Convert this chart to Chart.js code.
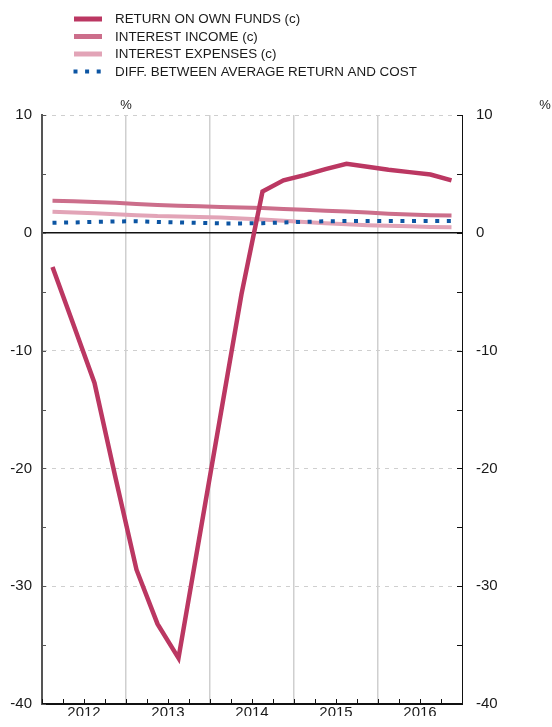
<!DOCTYPE html>
<html>
<head>
<meta charset="utf-8">
<script src="https://cdn.jsdelivr.net/npm/chart.js@4/dist/chart.umd.min.js"></script>
<style>
html,body{margin:0;padding:0;background:#fff;overflow:hidden;}
#wrap{position:relative;width:552px;height:727px;}
canvas{display:block;}
</style>
</head>
<body>
<div id="wrap"><canvas id="c" width="552" height="727"></canvas></div>
<script>
// ---- data ----
const quarters = ['2012-Q1','2012-Q2','2012-Q3','2012-Q4','2013-Q1','2013-Q2','2013-Q3','2013-Q4',
                  '2014-Q1','2014-Q2','2014-Q3','2014-Q4','2015-Q1','2015-Q2','2015-Q3','2015-Q4',
                  '2016-Q1','2016-Q2','2016-Q3','2016-Q4'];
const years = ['2012','2013','2014','2015','2016'];
const yTickLabels = [10, 0, -10, -20, -30, -40];
const returnOnOwnFunds = [-2.9, -7.8, -12.75, -20.8, -28.6, -33.2, -36.1, -25.8, -15.5, -5.2,
                          3.5, 4.45, 4.9, 5.4, 5.85, 5.6, 5.35, 5.15, 4.95, 4.45];
const interestIncome = [2.72, 2.68, 2.62, 2.55, 2.45, 2.36, 2.3, 2.25, 2.2, 2.15,
                        2.1, 2.02, 1.96, 1.88, 1.8, 1.72, 1.62, 1.55, 1.5, 1.47];
const interestExpenses = [1.78, 1.72, 1.65, 1.57, 1.5, 1.42, 1.38, 1.35, 1.3, 1.22,
                          1.12, 1.02, 0.92, 0.82, 0.72, 0.65, 0.6, 0.55, 0.5, 0.47];
const diffReturnCost = [0.85, 0.88, 0.92, 0.96, 0.98, 0.92, 0.88, 0.84, 0.8, 0.8,
                        0.82, 0.88, 0.93, 0.98, 1.0, 1.0, 1.0, 1.0, 1.0, 1.0];
const seriesLabels = ['RETURN ON OWN FUNDS (c)', 'INTEREST INCOME (c)', 'INTEREST EXPENSES (c)',
                      'DIFF. BETWEEN AVERAGE RETURN AND COST'];

const FONT = "'Liberation Sans', Arial, Helvetica, sans-serif";
const TXT = '#1a1a1a';

const innerTicks = {
  id: 'innerTicks',
  afterDatasetsDraw(chart) {
    const ctx = chart.ctx, ca = chart.chartArea;
    const yl = chart.scales.y, yr = chart.scales.y2, xq = chart.scales.x;
    ctx.save();
    ctx.lineWidth = 1;
    yl.ticks.forEach(t => {
      const p = Math.round(yl.getPixelForValue(t.value)) + 0.5;
      ctx.strokeStyle = '#555';
      ctx.beginPath(); ctx.moveTo(ca.left, p); ctx.lineTo(ca.left + 4, p); ctx.stroke();
    });
    yr.ticks.forEach(t => {
      const p = Math.round(yr.getPixelForValue(t.value)) + 0.5;
      ctx.strokeStyle = '#111';
      ctx.beginPath(); ctx.moveTo(ca.right - 5, p); ctx.lineTo(ca.right, p); ctx.stroke();
    });
    const half = (xq.getPixelForValue(1) - xq.getPixelForValue(0)) / 2;
    ctx.strokeStyle = '#111';
    for (let i = 0; i < quarters.length; i++) {
      const p = Math.round(xq.getPixelForValue(i) - half) + 0.5;
      ctx.beginPath(); ctx.moveTo(p, ca.bottom); ctx.lineTo(p, ca.bottom - 5); ctx.stroke();
    }
    ctx.restore();
  },
  afterDraw(chart) {
    const ctx = chart.ctx;
    ctx.save();
    // percent units
    ctx.fillStyle = TXT;
    ctx.font = '13px ' + FONT;
    ctx.textAlign = 'center';
    ctx.textBaseline = 'middle';
    ctx.fillText('%', 126, 105);
    ctx.fillText('%', 545, 105);
    // legend
    const order = [0, 1, 2, 3];
    const rowY = [19, 36.5, 54, 71.5];
    ctx.font = '13.4px ' + FONT;
    ctx.textAlign = 'left';
    order.forEach((di, k) => {
      const ds = chart.data.datasets[di];
      const y = rowY[k];
      ctx.strokeStyle = ds.borderColor;
      ctx.lineCap = 'butt';
      if (ds.borderDash && ds.borderDash.length) {
        ctx.lineWidth = 4;
        ctx.setLineDash(ds.borderDash);
        ctx.beginPath(); ctx.moveTo(73.5, y); ctx.lineTo(102, y); ctx.stroke();
        ctx.setLineDash([]);
      } else {
        ctx.lineWidth = 5;
        ctx.beginPath(); ctx.moveTo(74, y); ctx.lineTo(102, y); ctx.stroke();
      }
      ctx.fillStyle = TXT;
      ctx.fillText(ds.label, 115, y + 0.5);
    });
    ctx.restore();
  }
};

const greyGrid = '#cfcfcf';

new Chart(document.getElementById('c'), {
  type: 'line',
  data: {
    labels: quarters,
    datasets: [
      { label: seriesLabels[0], data: returnOnOwnFunds, borderColor: '#bb3762', borderWidth: 4.5, order: 0 },
      { label: seriesLabels[1], data: interestIncome, borderColor: '#cc6e8b', borderWidth: 4, order: 2 },
      { label: seriesLabels[2], data: interestExpenses, borderColor: '#e2a4b7', borderWidth: 4, order: 3 },
      { label: seriesLabels[3], data: diffReturnCost, borderColor: '#0c55a3', borderWidth: 4,
        borderDash: [4, 7.6], borderCapStyle: 'butt', order: 1 }
    ].map(d => Object.assign({ pointRadius: 0, tension: 0, fill: false, xAxisID: 'x', yAxisID: 'y',
                               borderJoinStyle: 'miter' }, d))
  },
  options: {
    responsive: false,
    animation: false,
    devicePixelRatio: 1,
    layout: { padding: { top: 115, left: 0, right: 0, bottom: 0 } },
    font: { family: FONT },
    plugins: { legend: { display: false }, tooltip: { enabled: false } },
    scales: {
      x: { type: 'category', offset: true, display: false },
      xYears: {
        type: 'category', labels: years, offset: true, position: 'bottom',
        grid: {
          offset: true, drawTicks: false, lineWidth: 1.5,
          color: c => (c.index > 0 && c.index < years.length) ? greyGrid : 'transparent'
        },
        border: { display: true, color: '#111', width: 2 },
        ticks: { font: { family: FONT, size: 15 }, color: TXT, padding: 0, maxRotation: 0, autoSkip: false },
        afterFit: s => { s.height = 12; }
      },
      y: {
        position: 'left', min: -40, max: 10,
        ticks: {
          stepSize: 5, padding: 10, color: TXT, font: { family: FONT, size: 15 },
          callback: v => yTickLabels.includes(v) ? String(v) : ''
        },
        grid: {
          drawTicks: false,
          color: c => {
            const v = c.tick ? c.tick.value : null;
            if (v === 0) return '#111';
            if (v === -40) return 'transparent';
            return (v !== null && yTickLabels.includes(v)) ? greyGrid : 'transparent';
          },
          lineWidth: c => (c.tick && c.tick.value === 0) ? 1.5 : 1
        },
        border: {
          display: true, color: '#555', width: 2,
          dash: c => (c.tick && c.tick.value !== 0) ? [4, 5] : []
        },
        afterFit: s => { s.width = 42; }
      },
      y2: {
        position: 'right', min: -40, max: 10,
        ticks: {
          stepSize: 5, padding: 14, color: TXT, font: { family: FONT, size: 15 },
          callback: v => yTickLabels.includes(v) ? String(v) : ''
        },
        grid: { drawOnChartArea: false, drawTicks: false },
        border: { display: true, color: '#111', width: 1 },
        afterFit: s => { s.width = 90; }
      }
    }
  },
  plugins: [innerTicks]
});
</script>
</body>
</html>
